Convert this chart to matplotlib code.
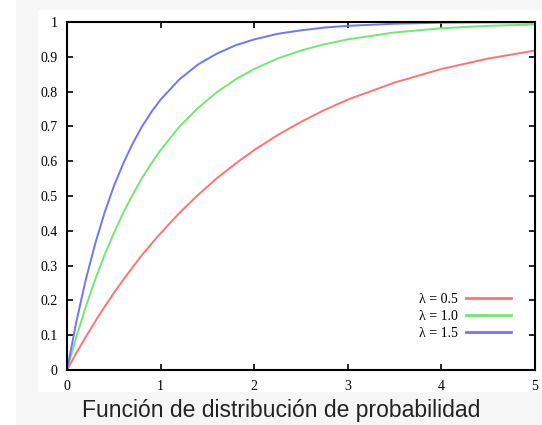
import matplotlib.pyplot as plt
from matplotlib.patches import Rectangle

# valores (mas puntos donde la curva dobla mas)
x = [0, 0.1, 0.2, 0.3, 0.4, 0.5, 0.6, 0.7, 0.8, 0.9, 1.0, 1.2, 1.4, 1.6, 1.8,
     2.0, 2.25, 2.5, 2.75, 3.0, 3.5, 4.0, 4.5, 5.0]
y_05 = [0, 0.049, 0.095, 0.139, 0.181, 0.221, 0.259, 0.295, 0.330, 0.362, 0.393,
        0.451, 0.503, 0.551, 0.593, 0.632, 0.675, 0.713, 0.747, 0.777, 0.826,
        0.865, 0.895, 0.918]
y_10 = [0, 0.095, 0.181, 0.259, 0.330, 0.393, 0.451, 0.503, 0.551, 0.593, 0.632,
        0.699, 0.753, 0.798, 0.835, 0.865, 0.895, 0.918, 0.936, 0.950, 0.970,
        0.982, 0.989, 0.993]
y_15 = [0, 0.139, 0.259, 0.362, 0.451, 0.528, 0.593, 0.650, 0.699, 0.741, 0.777,
        0.835, 0.878, 0.909, 0.933, 0.950, 0.966, 0.976, 0.984, 0.989, 0.995,
        0.998, 0.999, 0.999]
labels = ['λ = 0.5', 'λ = 1.0', 'λ = 1.5']
colores = ['#ff7373', '#73e673', '#7373ff']
xticks = [0, 1, 2, 3, 4, 5]
yticks = [0, 0.1, 0.2, 0.3, 0.4, 0.5, 0.6, 0.7, 0.8, 0.9, 1]
yticklabels = ['0', '0.1', '0.2', '0.3', '0.4', '0.5', '0.6', '0.7', '0.8', '0.9', '1']
titulo = 'Función de distribución de probabilidad'

W, H = 542, 425
fig = plt.figure(figsize=(W / 100, H / 100), dpi=100, facecolor='white')
# fondo gris claro y panel blanco
fig.patches.append(Rectangle((16 / W, 0), 1, 1, transform=fig.transFigure,
                             facecolor='#f6f6f6', edgecolor='none', zorder=-10))
fig.patches.append(Rectangle((38 / W, 1 - 392 / H), 1, (392 - 10) / H,
                             transform=fig.transFigure, facecolor='white',
                             edgecolor='none', zorder=-9))

ax = fig.add_axes([67 / W, 1 - 370 / H, (535 - 67) / W, (370 - 22) / H])
ax.set_zorder(5)
for ys, lab, c in zip([y_05, y_10, y_15], labels, colores):
    ax.plot(x, ys, color=c, lw=1.4, label=lab)

ax.set_xlim(0, 5)
ax.set_ylim(0, 1)
ax.set_xticks(xticks)
ax.set_yticks(yticks)
ax.set_yticklabels(yticklabels)
ax.tick_params(direction='in', top=True, right=True, length=4, width=1.2,
               labelsize=10, pad=7)
for lbl in ax.get_xticklabels() + ax.get_yticklabels():
    lbl.set_family('Liberation Serif')
for s in ax.spines.values():
    s.set_linewidth(1.5)

leg = ax.legend(loc='lower right', bbox_to_anchor=(0.975, 0.05), frameon=False,
                markerfirst=False, handlelength=3.2, handletextpad=0.6,
                labelspacing=0.3, prop={'family': 'Liberation Serif', 'size': 10})
for line in leg.get_lines():
    line.set_linewidth(2)

fig.text(281 / W, 1 - 410 / H, titulo, ha='center', va='center',
         fontsize=16.5, family='Liberation Sans', color='#222222')

fig.savefig('out.png', dpi=100, facecolor=fig.get_facecolor())
